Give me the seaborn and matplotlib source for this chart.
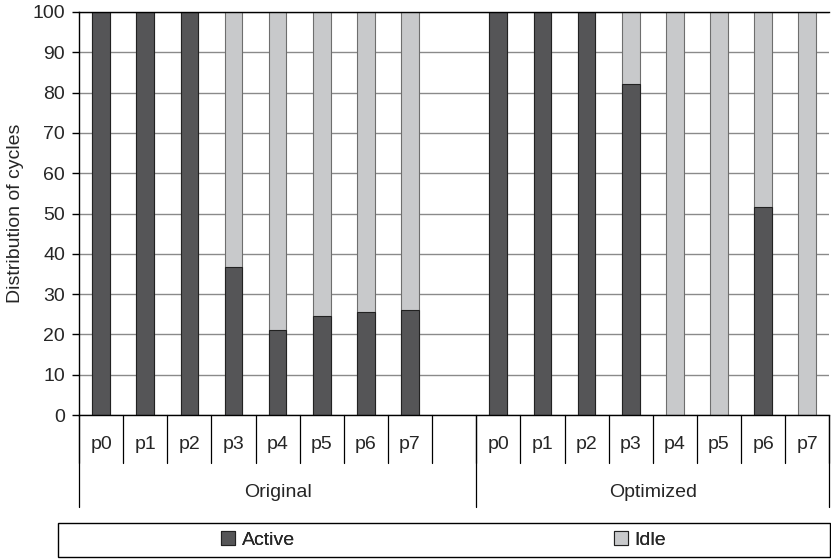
import matplotlib
matplotlib.use("Agg")
import matplotlib.pyplot as plt
from matplotlib.patches import Rectangle
import numpy as np
import pandas as pd
import seaborn as sns

# data
groups = ["Original", "Optimized"]
procs = ["p0", "p1", "p2", "p3", "p4", "p5", "p6", "p7"]
active_original = [100, 100, 100, 36.7, 21.2, 24.5, 25.5, 26.0]
active_optimized = [100, 100, 100, 82.2, 0, 0, 51.5, 0]

ACTIVE_COLOR = "#555557"
IDLE_COLOR = "#c8c9cb"
FS = 14

sns.set_style("white")
plt.rcParams['font.family'] = ['Liberation Sans', 'DejaVu Sans']

rows = []
for grp, vals in zip(groups, [active_original, active_optimized]):
    for p, v in zip(procs, vals):
        rows.append({"slot": f"{grp} {p}", "active": v, "total": 100.0})
df = pd.DataFrame(rows)

# one empty slot between the two groups
order = [f"Original {p}" for p in procs] + ["gap"] + [f"Optimized {p}" for p in procs]

fig = plt.figure(figsize=(8.31, 5.60), dpi=100)
ax = fig.add_axes([79 / 831, 1 - 415 / 560, 1 - 79 / 831 - 0.002, (415 - 12) / 560])

sns.barplot(data=df, x="slot", y="total", order=order, color=IDLE_COLOR,
            width=0.4, edgecolor="#6e6e6e", linewidth=0.8, saturation=1,
            errorbar=None, ax=ax)
sns.barplot(data=df, x="slot", y="active", order=order, color=ACTIVE_COLOR,
            width=0.4, edgecolor="#222222", linewidth=0.8, saturation=1,
            errorbar=None, ax=ax)

ax.set_ylim(0, 100)
ax.set_xlim(-0.5, len(order) - 0.5)
ax.set_yticks(np.arange(0, 101, 10))
ax.yaxis.grid(True, color="#8a8a8a", linewidth=1.0)
ax.set_axisbelow(True)
ax.tick_params(axis="y", labelsize=FS, length=5, width=1, color="black", direction="out", left=True, pad=5)
ax.set_ylabel("Distribution of cycles", fontsize=FS, labelpad=6)
ax.set_xlabel("")
ax.set_xticks([])
for side in ["left", "bottom", "top"]:
    ax.spines[side].set_visible(True)
    ax.spines[side].set_color("black")
    ax.spines[side].set_linewidth(1.0)
ax.spines["right"].set_visible(False)

# two-level category axis
trans = ax.get_xaxis_transform()
for i, name in enumerate(order):
    if name != "gap":
        ax.text(i, -0.074, name.split()[1], transform=trans, ha="center", va="center",
                fontsize=FS)
for b in np.arange(len(order) + 1) - 0.5:
    ax.plot([b, b], [0, -0.119], transform=trans, color="black", lw=0.9, clip_on=False)
for b in [-0.5, 8.5, 16.5]:
    ax.plot([b, b], [0, -0.228], transform=trans, color="black", lw=0.9, clip_on=False)
ax.text(4, -0.193, groups[0], transform=trans, ha="center", va="center", fontsize=FS)
ax.text(12.5, -0.193, groups[1], transform=trans, ha="center", va="center", fontsize=FS)

# legend box at the bottom
fig.patches.append(Rectangle((58 / 831, 1 - 557 / 560), (830 - 58) / 831, 34 / 560,
                             transform=fig.transFigure, fill=False, edgecolor="black", lw=1))
h_act = Rectangle((0, 0), 1, 1, facecolor=ACTIVE_COLOR, edgecolor="#222222", lw=0.8)
h_idle = Rectangle((0, 0), 1, 1, facecolor=IDLE_COLOR, edgecolor="#222222", lw=0.8)
for h, lab, cx in [(h_act, "Active", 258), (h_idle, "Idle", 640)]:
    leg = fig.legend([h], [lab], loc="center", bbox_to_anchor=(cx / 831, 1 - 540 / 560),
                     frameon=False, fontsize=FS, handlelength=0.7, handleheight=0.7,
                     handletextpad=0.35)
    fig.add_artist(leg)

fig.savefig("out.png", dpi=100)
